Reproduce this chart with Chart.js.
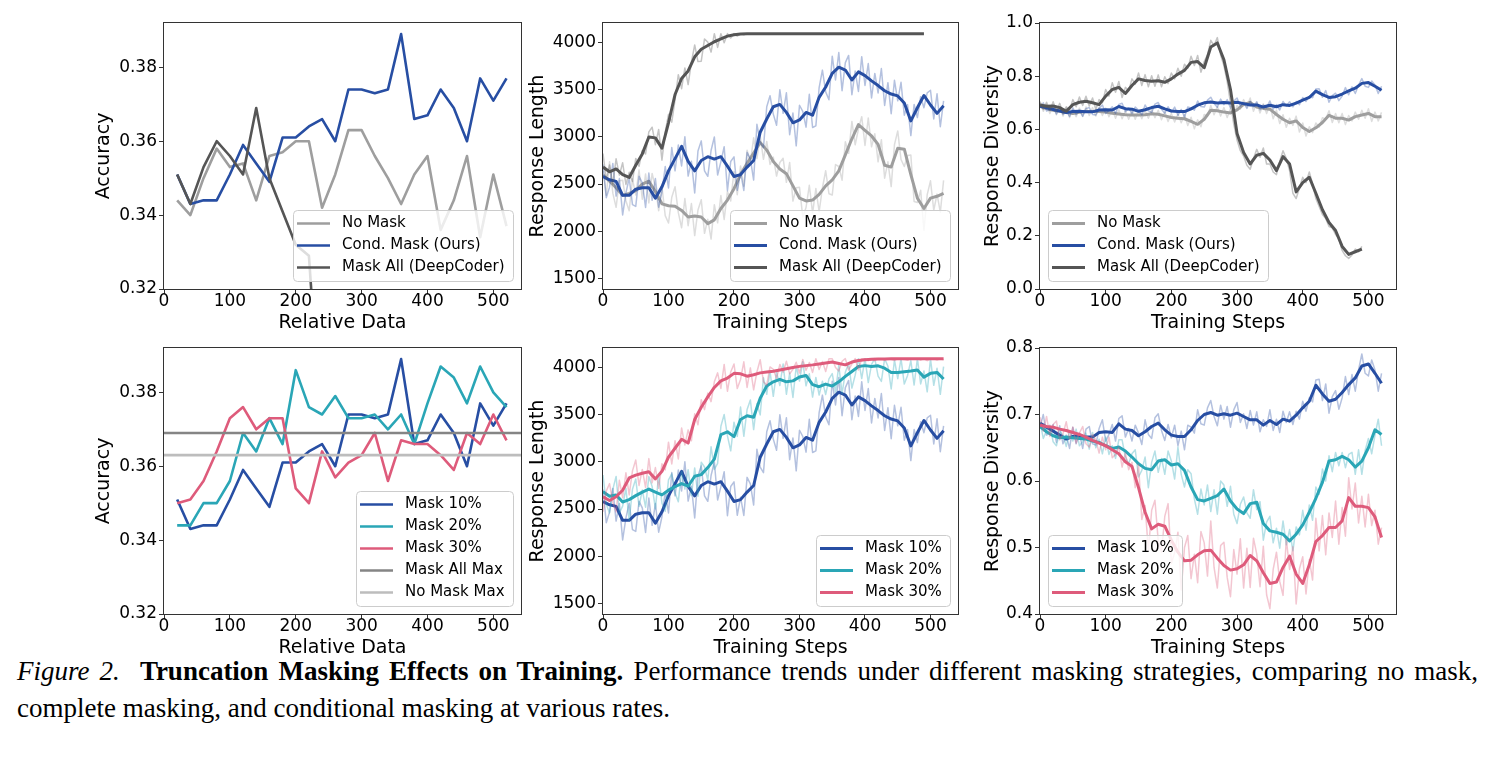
<!DOCTYPE html>
<html><head><meta charset="utf-8">
<script src="https://cdn.jsdelivr.net/npm/chart.js@4.4.1/dist/chart.umd.min.js"></script>
<style>
html,body{margin:0;padding:0;background:#fff;width:1494px;height:759px;overflow:hidden;position:relative}
canvas{position:absolute}
.cap{position:absolute;left:17px;font-family:"Liberation Serif","Times New Roman",serif;font-size:27px;line-height:27px;color:#000}
#cap1{top:658px;width:1461px;text-align:justify;text-align-last:justify}
#cap2{top:695px;white-space:nowrap}
</style></head><body>
<div class="cap" id="cap1"><i>Figure 2.</i>&nbsp; <b>Truncation Masking Effects on Training.</b> Performance trends under different masking strategies, comparing no mask,</div>
<div class="cap" id="cap2">complete masking, and conditional masking at various rates.</div>
<script>
// ================= DATA =================
const relData = [20,40,60,80,100,120,140,160,180,200,220,240,260,280,300,320,340,360,380,400,420,440,460,480,500,520];
const accNoMask   = [0.344,0.340,0.350,0.358,0.353,0.354,0.344,0.356,0.357,0.360,0.360,0.342,0.351,0.363,0.363,0.356,0.350,0.343,0.351,0.356,0.336,0.344,0.356,0.334,0.351,0.337];
const accCondMask = [0.351,0.343,0.344,0.344,0.351,0.359,0.354,0.349,0.361,0.361,0.364,0.366,0.360,0.374,0.374,0.373,0.374,0.389,0.366,0.367,0.374,0.369,0.360,0.377,0.371,0.377];
const accMaskAll  = [0.351,0.343,0.353,0.360,0.356,0.351,0.369,0.350,0.341,0.332,0.329,0.277];
const accMask10   = accCondMask;
const accMask20   = [0.344,0.344,0.350,0.350,0.356,0.369,0.364,0.373,0.366,0.386,0.376,0.374,0.379,0.373,0.373,0.374,0.370,0.374,0.366,0.377,0.387,0.384,0.377,0.387,0.380,0.376];
const accMask30   = [0.350,0.351,0.356,0.364,0.373,0.376,0.370,0.373,0.373,0.354,0.350,0.364,0.357,0.361,0.363,0.369,0.356,0.367,0.366,0.366,0.363,0.359,0.369,0.366,0.374,0.367];
const accMaskAllMax = 0.369;
const accNoMaskMax  = 0.363;

const stepsS = [0,10,20,30,40,50,60,70,80,90,100,110,120,130,140,150,160,170,180,190,200,210,220,230,240,250,260,270,280,290,300,310,320,330,340,350,360,370,380,390,400,410,420,430,440,450,460,470,480,490,500,510,520];
const stepsR = [0,5,10,15,20,25,30,35,40,45,50,55,60,65,70,75,80,85,90,95,100,105,110,115,120,125,130,135,140,145,150,155,160,165,170,175,180,185,190,195,200,205,210,215,220,225,230,235,240,245,250,255,260,265,270,275,280,285,290,295,300,305,310,315,320,325,330,335,340,345,350,355,360,365,370,375,380,385,390,395,400,405,410,415,420,425,430,435,440,445,450,455,460,465,470,475,480,485,490,495,500,505,510,515,520];

// Response length (smoothed + raw)
const lenNoMaskS = [2596,2530,2460,2380,2400,2430,2500,2530,2420,2290,2270,2265,2220,2150,2160,2150,2080,2120,2240,2330,2450,2600,2720,2830,2940,2860,2740,2660,2610,2480,2350,2320,2330,2390,2480,2545,2640,2810,2980,3130,3070,3010,2920,2700,2680,2880,2870,2600,2350,2240,2350,2370,2400];
const lenNoMaskR = [2642,2379,2737,2403,2253,2535,2541,2321,2216,2553,2384,2649,2339,2607,2300,2613,2466,2217,2474,2165,2086,2360,2472,2196,2036,2346,2058,2293,1953,2224,2334,1977,2126,1916,2281,2088,2378,2124,2422,2321,2634,2387,2692,2476,2858,2729,2991,2770,3009,2762,2952,2708,2786,2585,2729,2773,2518,2729,2319,2461,2465,2151,2251,2486,2192,2452,2206,2458,2641,2397,2384,2707,2686,2541,2948,2826,3164,2917,3084,3215,2909,3201,2895,3034,2736,2971,2562,2736,2473,2918,3064,2760,2686,2804,2807,2314,2304,2433,2010,2387,2534,2222,2393,2201,2538];
const lenCondS = [2578,2545,2528,2380,2380,2445,2460,2460,2350,2470,2640,2770,2900,2740,2640,2750,2790,2765,2790,2690,2580,2600,2680,2750,3050,3190,3320,3345,3260,3150,3180,3260,3230,3420,3530,3675,3740,3710,3604,3690,3650,3595,3545,3490,3455,3435,3360,3170,3310,3440,3339,3250,3330];
const lenCondR = [2708,2354,2467,2719,2372,2558,2172,2406,2562,2282,2263,2582,2512,2252,2616,2327,2558,2254,2418,2685,2458,2887,2640,2913,2692,3002,2584,2742,2406,2851,2958,2640,2582,2856,2999,2596,2738,2896,2430,2739,2788,2434,2626,2432,2836,2767,2542,3134,2946,2886,3320,3437,3242,3124,3501,3250,3468,3023,3254,2905,3336,3272,3104,3453,3100,3117,3524,3709,3478,3394,3857,3604,3896,3491,3788,3865,3448,3699,3482,3852,3546,3778,3413,3674,3467,3726,3334,3576,3247,3601,3383,3580,3230,3343,3014,3344,3206,3427,3310,3468,3495,3191,3458,3108,3382];
const lenMaskAllS = [2680,2630,2660,2600,2570,2700,2820,3000,2990,2880,3150,3450,3620,3700,3850,3930,3970,4010,4040,4070,4085,4092,4094,4095,4095,4095,4096,4095,4095,4096,4095,4095,4096,4095,4095,4095,4096,4095,4095,4096,4095,4095,4096,4095,4095,4095,4096,4095,4095,4095];
const lenMaskAllR = [2824,2547,2702,2501,2768,2594,2726,2495,2624,2527,2772,2688,2856,2820,3054,3103,2918,3079,2754,3051,3240,3156,3396,3661,3512,3732,3556,3793,3976,3800,3804,4040,4006,3900,4096,3950,4096,4000,4096,4050,4096,4070,4096,4085,4096,4090,4096,4092,4096,4090,4096,4093,4096,4090,4096,4094,4096,4092,4096,4093,4096,4090,4096,4094,4096,4092,4096,4093,4096,4090,4096,4094,4096,4092,4096,4093,4096,4090,4096,4094,4096,4092,4096,4093,4096,4090,4096,4094,4096,4092,4096,4093,4096,4090,4096,4094,4096,4092,4096];
const lenMask10S = lenCondS;
const lenMask10R = lenCondR;
const lenMask20S = [2685,2635,2648,2575,2600,2642,2680,2712,2680,2650,2700,2738,2770,2742,2848,2865,2940,3030,3290,3320,3268,3450,3490,3475,3675,3805,3850,3877,3850,3860,3902,3918,3820,3798,3826,3805,3850,3908,3960,4012,4022,4013,4020,3995,3950,3950,3958,3965,3975,3900,3940,3950,3880];
const lenMask20R = [2861,2550,2459,2708,2846,2458,2531,2720,2380,2709,2818,2529,2702,2520,2844,2740,2504,2863,2562,2477,2810,2873,2672,2578,2902,2712,2918,2641,2936,2636,2997,2946,2808,3161,2920,2984,3378,3503,3276,3118,3422,3271,3582,3272,3556,3658,3343,3619,3499,3894,3717,3960,3696,3952,3811,4040,3718,3943,3684,4013,3858,4064,3808,3935,3688,3897,3710,3856,3716,3882,3937,3740,4026,3725,3952,4044,3784,3920,4096,3885,4096,3842,4035,4096,3910,3854,4096,4016,3774,4082,3884,4096,3826,3918,4075,3816,4096,3828,3966,3744,4094,3813,3994,3717,4012];
const lenMask30S = [2630,2590,2630,2700,2830,2860,2880,2895,2820,2900,3050,3145,3240,3200,3450,3580,3690,3790,3860,3890,3940,3935,3910,3925,3945,3955,3962,3975,3988,4002,4014,4022,4030,4040,4050,4060,4045,4030,4060,4076,4085,4089,4092,4093,4094,4095,4095,4096,4096,4096,4096,4096,4096];
const lenMask30R = [2470,2690,2770,2570,2470,2805,2620,2885,2650,2905,3020,2750,2920,2728,3035,2778,2940,2720,2980,2915,3210,2978,3225,3032,3360,3180,3340,3225,3510,3395,3660,3555,3730,3640,3850,3945,3780,4035,3750,3955,4040,3778,3875,4062,3790,3998,3765,3955,4085,3850,3815,4008,3982,3888,4035,3952,4068,3935,3982,4058,3944,4088,3972,4056,3950,4096,3980,4065,3960,4096,4096,4002,3965,4068,4096,3975,4040,4096,3976,4096,4096,4075,4091,4074,4096,4096,4078,4096,4086,4076,4096,4096,4088,4078,4096,4090,4096,4080,4096,4074,4096,4096,4082,4096,4085];

// Response diversity (smoothed + raw)
const divNoMaskS = [0.686,0.678,0.672,0.668,0.664,0.660,0.664,0.667,0.667,0.667,0.665,0.661,0.658,0.655,0.654,0.654,0.655,0.659,0.657,0.651,0.645,0.642,0.640,0.630,0.619,0.638,0.672,0.670,0.665,0.662,0.673,0.694,0.701,0.684,0.679,0.676,0.656,0.638,0.625,0.632,0.607,0.592,0.606,0.626,0.653,0.642,0.642,0.635,0.648,0.654,0.660,0.648,0.648];
const divNoMaskR = [0.700,0.668,0.694,0.660,0.688,0.655,0.684,0.650,0.680,0.645,0.675,0.648,0.680,0.650,0.684,0.652,0.682,0.650,0.683,0.652,0.680,0.648,0.676,0.642,0.674,0.640,0.670,0.638,0.670,0.638,0.670,0.640,0.672,0.642,0.675,0.644,0.672,0.636,0.666,0.630,0.660,0.628,0.658,0.625,0.656,0.615,0.646,0.602,0.636,0.610,0.656,0.650,0.690,0.655,0.686,0.650,0.682,0.645,0.678,0.652,0.690,0.676,0.712,0.684,0.718,0.668,0.700,0.662,0.696,0.660,0.692,0.640,0.672,0.622,0.655,0.608,0.642,0.615,0.650,0.590,0.624,0.575,0.610,0.588,0.624,0.608,0.644,0.638,0.670,0.626,0.660,0.625,0.660,0.618,0.652,0.632,0.665,0.638,0.672,0.642,0.678,0.630,0.665,0.632,0.664];
const divCondS = [0.687,0.681,0.675,0.669,0.663,0.667,0.668,0.666,0.666,0.673,0.674,0.673,0.686,0.678,0.676,0.668,0.674,0.682,0.687,0.677,0.669,0.667,0.667,0.677,0.691,0.700,0.703,0.699,0.701,0.699,0.702,0.697,0.692,0.692,0.684,0.691,0.685,0.693,0.690,0.699,0.710,0.720,0.744,0.731,0.720,0.723,0.733,0.745,0.755,0.773,0.776,0.762,0.747];
const divCondR = [0.681,0.700,0.669,0.674,0.685,0.658,0.683,0.656,0.669,0.649,0.681,0.656,0.672,0.649,0.678,0.682,0.656,0.654,0.679,0.692,0.660,0.670,0.685,0.660,0.694,0.698,0.666,0.679,0.660,0.684,0.672,0.655,0.692,0.670,0.664,0.695,0.701,0.676,0.661,0.685,0.665,0.684,0.653,0.675,0.647,0.684,0.681,0.672,0.707,0.686,0.684,0.710,0.721,0.697,0.683,0.714,0.693,0.712,0.681,0.707,0.718,0.688,0.701,0.679,0.706,0.684,0.704,0.674,0.692,0.682,0.707,0.676,0.693,0.673,0.705,0.688,0.704,0.685,0.705,0.693,0.720,0.705,0.725,0.719,0.752,0.753,0.721,0.746,0.702,0.727,0.736,0.708,0.725,0.757,0.730,0.760,0.735,0.767,0.791,0.762,0.758,0.782,0.767,0.735,0.762];
const divMaskAllS = [0.692,0.687,0.688,0.682,0.668,0.693,0.702,0.706,0.700,0.693,0.725,0.750,0.758,0.735,0.765,0.790,0.784,0.781,0.783,0.777,0.790,0.808,0.822,0.852,0.855,0.832,0.910,0.925,0.862,0.750,0.585,0.513,0.470,0.503,0.510,0.485,0.445,0.498,0.470,0.365,0.400,0.420,0.360,0.298,0.250,0.220,0.160,0.130,0.140,0.150];
const divMaskAllR = [0.705,0.675,0.702,0.670,0.704,0.668,0.698,0.660,0.685,0.672,0.712,0.685,0.722,0.690,0.725,0.688,0.718,0.675,0.712,0.700,0.750,0.725,0.775,0.740,0.780,0.720,0.758,0.745,0.790,0.770,0.812,0.765,0.806,0.760,0.802,0.762,0.805,0.760,0.798,0.772,0.812,0.790,0.830,0.800,0.845,0.830,0.875,0.840,0.878,0.815,0.855,0.880,0.935,0.915,0.945,0.880,0.840,0.780,0.700,0.620,0.560,0.520,0.500,0.465,0.450,0.490,0.525,0.495,0.530,0.470,0.470,0.440,0.430,0.480,0.520,0.490,0.445,0.360,0.340,0.380,0.420,0.400,0.440,0.395,0.340,0.310,0.280,0.265,0.235,0.230,0.205,0.190,0.145,0.125,0.115,0.128,0.150,0.140,0.160];
const divMask10S = divCondS;
const divMask10R = divCondR;
const divMask20S = [0.682,0.674,0.668,0.665,0.666,0.665,0.664,0.663,0.660,0.658,0.653,0.649,0.651,0.645,0.636,0.626,0.619,0.617,0.630,0.632,0.624,0.626,0.616,0.591,0.572,0.570,0.574,0.578,0.588,0.570,0.558,0.551,0.566,0.568,0.536,0.525,0.523,0.520,0.510,0.520,0.534,0.553,0.574,0.598,0.630,0.632,0.637,0.632,0.621,0.630,0.650,0.677,0.670];
const divMask20R = [0.689,0.664,0.676,0.684,0.659,0.653,0.674,0.669,0.652,0.676,0.660,0.678,0.653,0.659,0.672,0.648,0.673,0.650,0.663,0.641,0.666,0.640,0.653,0.634,0.662,0.662,0.636,0.626,0.641,0.647,0.606,0.616,0.636,0.590,0.628,0.645,0.613,0.634,0.610,0.645,0.630,0.603,0.651,0.610,0.591,0.617,0.611,0.573,0.550,0.588,0.564,0.594,0.554,0.587,0.550,0.600,0.594,0.562,0.592,0.550,0.536,0.565,0.576,0.552,0.544,0.587,0.557,0.569,0.511,0.538,0.547,0.507,0.529,0.499,0.540,0.504,0.527,0.495,0.531,0.519,0.556,0.526,0.564,0.541,0.591,0.580,0.618,0.600,0.638,0.614,0.643,0.623,0.643,0.620,0.640,0.643,0.610,0.647,0.610,0.646,0.664,0.641,0.669,0.693,0.653];
const divMask30S = [0.684,0.682,0.681,0.678,0.676,0.673,0.670,0.666,0.661,0.657,0.653,0.647,0.641,0.629,0.622,0.590,0.553,0.528,0.535,0.532,0.511,0.493,0.480,0.481,0.489,0.495,0.496,0.484,0.473,0.466,0.468,0.474,0.488,0.480,0.462,0.446,0.448,0.470,0.487,0.460,0.446,0.474,0.509,0.518,0.530,0.530,0.540,0.575,0.562,0.562,0.560,0.546,0.515];
const divMask30R = [0.696,0.675,0.697,0.667,0.685,0.690,0.662,0.671,0.689,0.663,0.681,0.657,0.672,0.682,0.656,0.651,0.670,0.662,0.642,0.666,0.647,0.666,0.635,0.640,0.651,0.621,0.642,0.617,0.628,0.590,0.625,0.542,0.563,0.495,0.556,0.571,0.510,0.493,0.547,0.566,0.476,0.492,0.523,0.436,0.500,0.518,0.453,0.490,0.447,0.524,0.507,0.457,0.540,0.470,0.439,0.503,0.508,0.455,0.426,0.497,0.460,0.513,0.439,0.499,0.440,0.514,0.490,0.441,0.502,0.429,0.408,0.467,0.493,0.449,0.428,0.513,0.467,0.501,0.415,0.468,0.486,0.430,0.482,0.451,0.544,0.495,0.548,0.489,0.552,0.515,0.570,0.505,0.560,0.517,0.605,0.558,0.597,0.537,0.577,0.531,0.580,0.533,0.556,0.505,0.530];

// Tick labels
const xTicks = [0,100,200,300,400,500];
const accTicks = [0.32,0.34,0.36,0.38];
const lenTicks = [1500,2000,2500,3000,3500,4000];
const divTopTicks = [0.0,0.2,0.4,0.6,0.8,1.0];
const divBotTicks = [0.4,0.5,0.6,0.7,0.8];

// ================= RENDER =================
const FONT = 'DejaVu Sans';
const C = {gray:'#9e9e9e', blue:'#274ea3', dark:'#555555', teal:'#2aa6b6', pink:'#de5b7b', allMax:'#858585', noMax:'#bdbdbd'};
function rgba(hex,a){const n=parseInt(hex.slice(1),16);return 'rgba('+(n>>16)+','+((n>>8)&255)+','+(n&255)+','+a+')';}
function pts(xs,ys){return ys.map((y,i)=>({x:xs[i],y:y}));}

const panelPlugin = {
  id:'panelFrame',
  afterDatasetsDraw(chart,args,opts){
    const ctx=chart.ctx,a=chart.chartArea;
    ctx.save();
    ctx.strokeStyle='#333';ctx.lineWidth=1;
    ctx.strokeRect(a.left-0.5,a.top-0.5,a.right-a.left+1,a.bottom-a.top+1);
    const items=opts.items||[];
    if(items.length){
      ctx.font='15px "'+FONT+'"';
      let tw=0;items.forEach(it=>{tw=Math.max(tw,ctx.measureText(it.label).width);});
      const bw=Math.round(49+tw+8),bh=27+(items.length-1)*22;
      const bx=opts.corner==='ll'?Math.round(a.left+8):Math.round(a.right-8-bw);
      const by=Math.round(a.bottom-8-bh);
      ctx.beginPath();ctx.roundRect(bx+0.5,by+0.5,bw,bh,4);
      ctx.fillStyle='rgba(255,255,255,0.8)';ctx.fill();
      ctx.strokeStyle='#cccccc';ctx.lineWidth=1;ctx.stroke();
      items.forEach((it,i)=>{
        const cy=by+13.5+i*22;
        ctx.beginPath();ctx.moveTo(bx+4,cy);ctx.lineTo(bx+37,cy);
        ctx.strokeStyle=it.color;ctx.lineWidth=it.width;ctx.lineCap='butt';ctx.stroke();
        ctx.fillStyle='#000';ctx.textBaseline='middle';ctx.textAlign='left';
        ctx.fillText(it.label,bx+49,cy);
      });
    }
    ctx.restore();
  }
};

function line(xs,ys,color,width){return {data:pts(xs,ys),borderColor:color,borderWidth:width};}

function makePanel(o){
  const W=o.R-o.L+102,H=o.B-o.T+64;
  const cv=document.createElement('canvas');
  cv.width=W;cv.height=H;
  cv.style.left=(o.L-90)+'px';cv.style.top=(o.T-12)+'px';
  cv.style.width=W+'px';cv.style.height=H+'px';
  document.body.appendChild(cv);
  const n=o.datasets.length;
  o.datasets.forEach((d,i)=>{d.order=n-i;d.pointRadius=0;d.pointHoverRadius=0;d.fill=false;d.tension=0;d.clip=0;d.borderJoinStyle='round';});
  const tickFont={family:FONT,size:17,lineHeight:1};
  const titleFont={family:FONT,size:19,lineHeight:1};
  const grid={display:true,drawOnChartArea:false,drawTicks:true,tickLength:5,tickWidth:1,tickColor:'#333',color:'#333'};
  new Chart(cv,{
    type:'line',
    data:{datasets:o.datasets},
    options:{
      responsive:false,animation:false,devicePixelRatio:1,events:[],
      layout:{padding:{left:0,top:12,right:12,bottom:0}},
      plugins:{legend:{display:false},tooltip:{enabled:false},panelFrame:{items:o.legend,corner:o.corner}},
      scales:{
        x:{type:'linear',min:0,max:542,
          afterBuildTicks:s=>{s.ticks=xTicks.map(v=>({value:v}));},
          afterFit:s=>{s.height=52;},
          ticks:{font:tickFont,color:'#000',padding:-1,maxRotation:0,autoSkip:false,callback:v=>String(v)},
          grid:grid,border:{display:false},
          title:{display:true,text:o.xTitle,font:titleFont,color:'#000',padding:{top:0,bottom:8.5}}},
        y:{type:'linear',min:o.ymin,max:o.ymax,
          afterBuildTicks:s=>{s.ticks=o.yTicks.map(v=>({value:v}));},
          afterFit:s=>{s.width=90;},
          ticks:{font:tickFont,color:'#000',padding:2,autoSkip:false,callback:o.fmt},
          grid:grid,border:{display:false},
          title:{display:true,text:o.yTitle,font:titleFont,color:'#000',padding:{top:o.ytp,bottom:0}}}
      }
    },
    plugins:[panelPlugin]
  });
}

const COL=[{L:164,R:521,ytp:21},{L:603,R:958,ytp:15.8},{L:1040,R:1396,ytp:33.5}];
const ROW=[{T:23,B:289},{T:348,B:614}];
const f2=v=>Number(v).toFixed(2), f0=v=>String(Math.round(v)), f1=v=>Number(v).toFixed(1);
const AW=2.6, SW=3, RW=1.5, RA=0.35;
const legTop3=[{label:'No Mask',color:C.gray},{label:'Cond. Mask (Ours)',color:C.blue},{label:'Mask All (DeepCoder)',color:C.dark}];
const legBot3=[{label:'Mask 10%',color:C.blue},{label:'Mask 20%',color:C.teal},{label:'Mask 30%',color:C.pink}];
const maxLineX=[0,542];

// Top-left: accuracy
makePanel(Object.assign({},COL[0],ROW[0],{xTitle:'Relative Data',yTitle:'Accuracy',ymin:0.32,ymax:0.392,yTicks:accTicks,fmt:f2,corner:'lr',
  legend:legTop3.map(it=>Object.assign({width:AW},it)),
  datasets:[line(relData,accNoMask,C.gray,AW),line(relData,accCondMask,C.blue,AW),line(relData,accMaskAll,C.dark,AW)]}));

// Top-middle: response length
makePanel(Object.assign({},COL[1],ROW[0],{xTitle:'Training Steps',yTitle:'Response Length',ymin:1386,ymax:4209,yTicks:lenTicks,fmt:f0,corner:'lr',
  legend:legTop3.map(it=>Object.assign({width:SW},it)),
  datasets:[
    line(stepsR,lenNoMaskR,rgba(C.gray,RA),RW),line(stepsS,lenNoMaskS,C.gray,SW),
    line(stepsR,lenCondR,rgba(C.blue,RA),RW),line(stepsS,lenCondS,C.blue,SW),
    line(stepsR.slice(0,lenMaskAllR.length),lenMaskAllR,rgba(C.dark,RA),RW),line(stepsS.slice(0,lenMaskAllS.length),lenMaskAllS,C.dark,SW)]}));

// Top-right: response diversity
makePanel(Object.assign({},COL[2],ROW[0],{xTitle:'Training Steps',yTitle:'Response Diversity',ymin:0,ymax:1,yTicks:divTopTicks,fmt:f1,corner:'ll',
  legend:legTop3.map(it=>Object.assign({width:SW},it)),
  datasets:[
    line(stepsR,divNoMaskR,rgba(C.gray,RA),RW),line(stepsS,divNoMaskS,C.gray,SW),
    line(stepsR,divCondR,rgba(C.blue,RA),RW),line(stepsS,divCondS,C.blue,SW),
    line(stepsR.slice(0,divMaskAllR.length),divMaskAllR,rgba(C.dark,RA),RW),line(stepsS.slice(0,divMaskAllS.length),divMaskAllS,C.dark,SW)]}));

// Bottom-left: accuracy by mask rate
makePanel(Object.assign({},COL[0],ROW[1],{xTitle:'Relative Data',yTitle:'Accuracy',ymin:0.32,ymax:0.392,yTicks:accTicks,fmt:f2,corner:'lr',
  legend:[{label:'Mask 10%',color:C.blue,width:AW},{label:'Mask 20%',color:C.teal,width:AW},{label:'Mask 30%',color:C.pink,width:AW},{label:'Mask All Max',color:C.allMax,width:AW},{label:'No Mask Max',color:C.noMax,width:AW}],
  datasets:[line(relData,accMask10,C.blue,AW),line(relData,accMask20,C.teal,AW),line(relData,accMask30,C.pink,AW),
    line(maxLineX,[accMaskAllMax,accMaskAllMax],C.allMax,AW),line(maxLineX,[accNoMaskMax,accNoMaskMax],C.noMax,AW)]}));

// Bottom-middle: response length by mask rate
makePanel(Object.assign({},COL[1],ROW[1],{xTitle:'Training Steps',yTitle:'Response Length',ymin:1386,ymax:4209,yTicks:lenTicks,fmt:f0,corner:'lr',
  legend:legBot3.map(it=>Object.assign({width:SW},it)),
  datasets:[
    line(stepsR,lenMask10R,rgba(C.blue,RA),RW),line(stepsS,lenMask10S,C.blue,SW),
    line(stepsR,lenMask20R,rgba(C.teal,RA),RW),line(stepsS,lenMask20S,C.teal,SW),
    line(stepsR,lenMask30R,rgba(C.pink,RA),RW),line(stepsS,lenMask30S,C.pink,SW)]}));

// Bottom-right: response diversity by mask rate
makePanel(Object.assign({},COL[2],ROW[1],{xTitle:'Training Steps',yTitle:'Response Diversity',ymin:0.4,ymax:0.8,yTicks:divBotTicks,fmt:f1,corner:'ll',
  legend:legBot3.map(it=>Object.assign({width:SW},it)),
  datasets:[
    line(stepsR,divMask10R,rgba(C.blue,RA),RW),line(stepsS,divMask10S,C.blue,SW),
    line(stepsR,divMask20R,rgba(C.teal,RA),RW),line(stepsS,divMask20S,C.teal,SW),
    line(stepsR,divMask30R,rgba(C.pink,RA),RW),line(stepsS,divMask30S,C.pink,SW)]}));
</script>
</body></html>
